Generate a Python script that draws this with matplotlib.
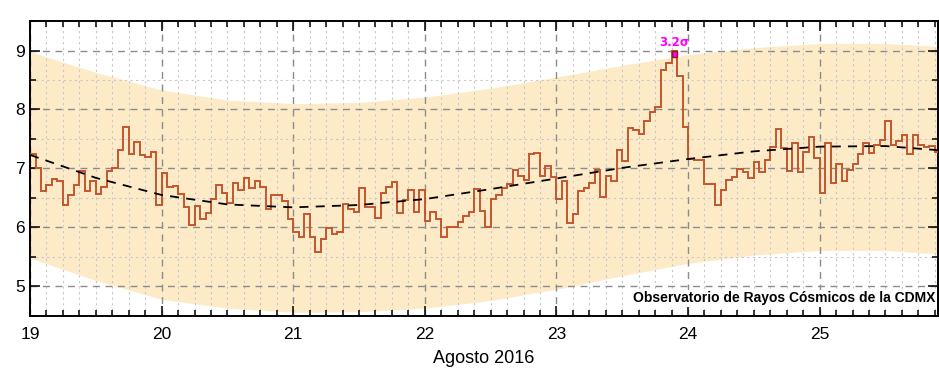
import numpy as np
import matplotlib
matplotlib.use("Agg")
import matplotlib.pyplot as plt
from matplotlib.ticker import MultipleLocator

# hourly values, one list per day of August 2016 (day 25 ends at 21 h)
day19 = [7.24, 7.00, 6.62, 6.72, 6.82, 6.79, 6.38, 6.55, 6.72, 6.96, 6.62, 6.79,
         6.56, 6.69, 6.96, 7.00, 7.32, 7.70, 7.24, 7.45, 7.22, 7.19, 7.28, 6.38]
day20 = [6.92, 6.69, 6.71, 6.56, 6.35, 6.04, 6.37, 6.14, 6.24, 6.48, 6.72, 6.58,
         6.41, 6.76, 6.63, 6.84, 6.67, 6.79, 6.69, 6.32, 6.55, 6.55, 6.44, 6.15]
day21 = [5.92, 5.83, 6.22, 5.83, 5.58, 5.80, 5.99, 5.89, 5.93, 6.39, 6.31, 6.26,
         6.67, 6.35, 6.34, 6.16, 6.59, 6.69, 6.77, 6.25, 6.47, 6.63, 6.26, 6.63]
day22 = [6.11, 6.26, 6.15, 5.84, 6.00, 6.01, 6.10, 6.20, 6.26, 6.65, 6.28, 6.00,
         6.49, 6.55, 6.66, 6.73, 6.97, 6.88, 6.81, 7.25, 7.26, 6.88, 7.04, 6.86]
day23 = [6.49, 6.78, 6.08, 6.22, 6.62, 6.66, 6.75, 6.98, 6.52, 6.87, 6.79, 7.32,
         7.12, 7.69, 7.66, 7.59, 7.80, 7.96, 8.04, 8.67, 8.79, 8.99, 8.56, 7.71]
day24 = [7.16, 7.14, 7.14, 6.74, 6.74, 6.38, 6.63, 6.80, 6.85, 6.99, 6.94, 6.83,
         7.11, 6.94, 7.15, 7.36, 7.67, 7.35, 6.96, 7.43, 6.94, 7.28, 7.53, 7.17]
day25 = [6.58, 7.43, 6.76, 7.08, 6.79, 6.98, 7.08, 7.24, 7.43, 7.26, 7.40, 7.48,
         7.80, 7.39, 7.46, 7.57, 7.24, 7.56, 7.39, 7.37, 7.38, 7.28]

# fitted trend and band, read every half day
fit_days = [19, 19.5, 20, 20.5, 21, 21.5, 22, 22.5, 23, 23.5, 24, 24.5, 25, 25.5, 25.9]
trend = [7.23, 6.84, 6.55, 6.39, 6.34, 6.38, 6.48, 6.65, 6.83, 7.01, 7.16, 7.29, 7.37, 7.38, 7.31]
band_hi = [8.98, 8.63, 8.33, 8.16, 8.10, 8.12, 8.21, 8.36, 8.55, 8.75, 8.93, 9.05, 9.12, 9.12, 9.07]
band_lo = [5.48, 5.10, 4.78, 4.63, 4.56, 4.57, 4.63, 4.76, 4.95, 5.18, 5.39, 5.53, 5.61, 5.61, 5.55]

peak_day = 23
peak_hour = 21
peak_label = "3.2\u03c3"


def main():
    plt.rcParams['font.family'] = ['Liberation Sans', 'DejaVu Sans']
    values = day19 + day20 + day21 + day22 + day23 + day24 + day25
    edges = 19 + np.arange(len(values) + 1) / 24.0

    fig = plt.figure(figsize=(9.39, 3.76), dpi=100)
    ax = fig.add_axes([0.032, 0.16, 0.967, 0.784])

    ax.fill_between(fit_days, band_lo, band_hi, color="#fdebc8", linewidth=0, zorder=1)
    ax.stairs(values, edges, baseline=None, color="#c4552d", linewidth=1.4, zorder=3)
    ax.plot(fit_days, trend, color="black", linestyle=(0, (5, 4)), linewidth=1.3, zorder=4)

    # highlighted peak bin
    i = (peak_day - 19) * 24 + peak_hour
    x0 = edges[i]
    ax.bar(x0, 0.1, bottom=values[i] - 0.1, width=1 / 24.0, align="edge",
           color="#ff00ff", edgecolor="#8b1a1a", linewidth=1, zorder=5)
    ax.text(x0 + 1 / 48.0, values[i] + 0.04, peak_label, color="#ff00ff",
            fontsize=8.5, fontweight="bold", ha="center", va="bottom",
            family=['DejaVu Sans'])

    ax.set_xlim(19, 25.9)
    ax.set_ylim(4.5, 9.5)
    ax.xaxis.set_major_locator(MultipleLocator(1))
    ax.xaxis.set_minor_locator(MultipleLocator(1 / 8.0))
    ax.yaxis.set_major_locator(MultipleLocator(1))
    ax.yaxis.set_minor_locator(MultipleLocator(0.5))

    ax.set_axisbelow('line')
    ax.grid(which="major", color="#8c8c8c", linestyle=(0, (5, 4)), linewidth=1)
    ax.grid(which="minor", color="#c8c8c8", linestyle=(0, (2, 3)), linewidth=0.8)

    ax.tick_params(which="both", direction="in", top=True, right=True, width=1.1)
    ax.tick_params(which="major", length=7, labelsize=12.5)
    ax.tick_params(which="minor", length=4)
    ax.tick_params(axis="x", pad=8)
    for s in ax.spines.values():
        s.set_linewidth(1.4)

    ax.set_xlabel("Agosto 2016", fontsize=13, labelpad=6)
    ax.text(0.997, 0.06, "Observatorio de Rayos C\u00f3smicos de la CDMX",
            transform=ax.transAxes, ha="right", va="center", fontsize=10,
            fontweight="bold", zorder=6,
            bbox=dict(facecolor="white", edgecolor="none", pad=1))

    plt.savefig("out.png", dpi=100)


if __name__ == "__main__":
    main()
